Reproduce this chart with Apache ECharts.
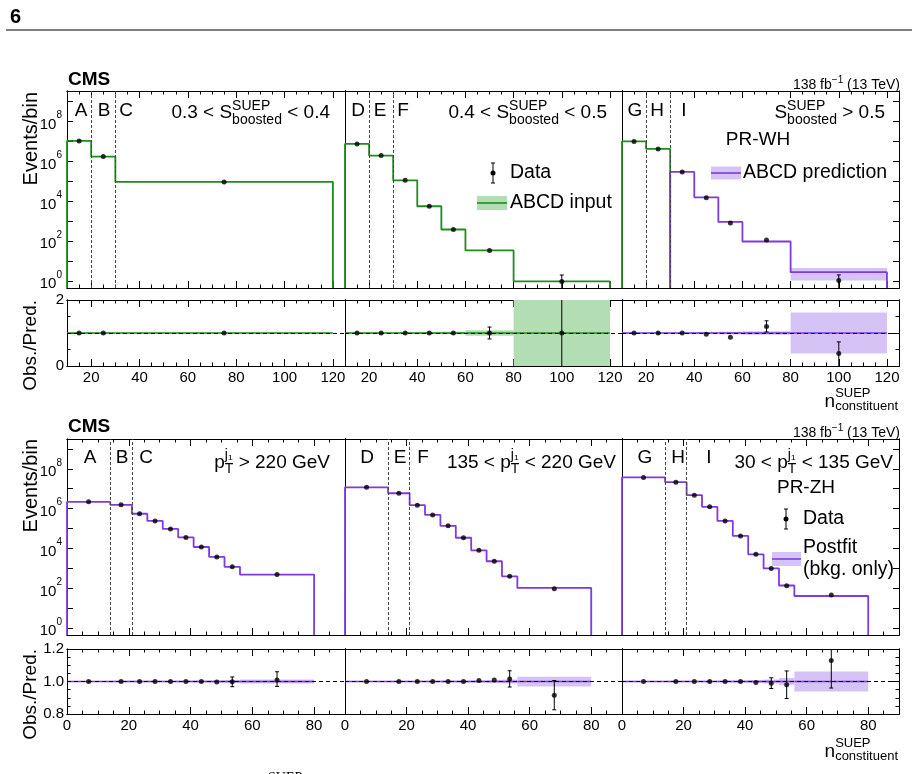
<!DOCTYPE html>
<html lang="en">
<head>
<meta charset="UTF-8">
<title>SUEP ABCD closure</title>
<style>
  html, body { margin: 0; padding: 0; background: #fff; }
  #chart { width: 920px; height: 774px; }
</style>
</head>
<body>
<div id="chart"></div>
<script src="https://cdn.jsdelivr.net/npm/echarts@6/dist/echarts.min.js"></script>
<script>
const FONT = '"Liberation Sans", Arial, Helvetica, sans-serif';
const GREEN = '#1e8c1e', GREEN_BAND = '#b3ddb3';
const PURPLE = '#7d3be0', PURPLE_BAND = '#d6c3f5';

// ---- data: top figure, slices in S_boosted (PR-WH)
const wsEdges = [
  [10, 20, 30, 120],
  [10, 20, 30, 40, 50, 60, 80, 120],
  [10, 20, 30, 40, 50, 60, 80, 120]
];
const wsPred = [
  [1.0e7, 1.65e6, 8.9e4],
  [7.1e6, 1.85e6, 1.07e5, 5.4e3, 370, 33, 0.93],
  [9.5e6, 4.0e6, 2.8e5, 1.5e4, 890, 93, 2.7]
];
const wsRatio = [
  [1, 1, 1],
  [1, 1, 1, 1, 1, 1, 1],
  [1, 1, 1, 0.96, 0.87, 1.2, 0.38]
];
const wsErrLo = [
  [0.003, 0.005, 0.02],
  [0.001, 0.002, 0.005, 0.02, 0.05, 0.18, 1.0],
  [0.001, 0.002, 0.006, 0.02, 0.03, 0.17, 0.38]
];
const wsErrHi = [
  [0.003, 0.005, 0.02],
  [0.001, 0.002, 0.005, 0.02, 0.05, 0.18, 1.1],
  [0.001, 0.002, 0.006, 0.02, 0.03, 0.17, 0.35]
];
const wsBand = [
  [0.003, 0.004, 0.01],
  [0.002, 0.003, 0.005, 0.02, 0.04, 0.08, 1.2],
  [0.002, 0.003, 0.005, 0.02, 0.04, 0.05, 0.62]
];
const wsInputBins = [3, 7, 2];   // leading bins that are ABCD input (green)
const wsRegionCuts = [20, 30];
const wsXLabels = [20, 40, 60, 80, 100, 120];
const wsRatioLabels = [0, 2];

// ---- data: bottom figure, slices in leading jet pT (PR-ZH)
const ptEdges = [0, 14, 21, 26, 31, 36, 41, 46, 51, 56, 80];
const ptPred = [
  [2.19e6, 1.55e6, 5.5e5, 2.4e5, 9.5e4, 3.55e4, 1.17e4, 3.7e3, 1.17e3, 480],
  [1.17e7, 5.9e6, 1.48e6, 4.8e5, 1.35e5, 3.4e4, 7.9e3, 2.24e3, 390, 102],
  [3.7e7, 2.14e7, 4.7e6, 1.23e6, 2.4e5, 4.2e4, 5.0e3, 980, 135, 40]
];
const ptRatio = [
  [1, 1, 1, 1, 1, 1, 1, 0.997, 0.998, 1.01],
  [1, 1, 1, 1, 1, 1, 1.006, 1.01, 1.016, 0.916],
  [1, 1, 1, 1, 1, 1, 0.994, 0.99, 0.98, 1.13]
];
const ptErrLo = [
  [0.002, 0.002, 0.003, 0.004, 0.005, 0.007, 0.01, 0.015, 0.03, 0.04],
  [0.001, 0.002, 0.002, 0.003, 0.004, 0.006, 0.01, 0.015, 0.05, 0.09],
  [0.001, 0.001, 0.002, 0.003, 0.005, 0.008, 0.015, 0.033, 0.085, 0.17]
];
const ptErrHi = [
  [0.002, 0.002, 0.003, 0.004, 0.005, 0.007, 0.01, 0.015, 0.03, 0.05],
  [0.001, 0.002, 0.002, 0.003, 0.004, 0.006, 0.01, 0.015, 0.05, 0.09],
  [0.001, 0.001, 0.002, 0.003, 0.005, 0.008, 0.015, 0.033, 0.085, 0.17]
];
const ptBand = [
  [0.003, 0.003, 0.003, 0.003, 0.003, 0.004, 0.005, 0.006, 0.008, 0.012],
  [0.002, 0.002, 0.003, 0.003, 0.004, 0.005, 0.006, 0.008, 0.012, 0.03],
  [0.002, 0.002, 0.003, 0.003, 0.004, 0.005, 0.008, 0.012, 0.022, 0.062]
];
const ptRegionCuts = [14, 21];
const ptXLabels = [0, 20, 40, 60, 80];
const ptRatioLabels = [0.8, 1.0, 1.2];

const decadeTicks = [0, 1, 2, 3, 4, 5, 6, 7, 8, 9];
const decadeLabels = [0, 2, 4, 6, 8];

// ---- layout
const colLeft = [67, 345, 622];
const colWidth = [278, 277, 277];
const mainYRange = [-0.36, 9.5];

const lg = v => (v > 0 ? Math.log10(v) : -99);
function steps(a, b, step) {
  const out = [];
  for (let v = a; v <= b + 1e-9; v += step) out.push(+v.toFixed(3));
  return out;
}

const figures = [
  {
    edges: wsEdges, pred: wsPred, ratio: wsRatio, errLo: wsErrLo, errHi: wsErrHi, band: wsBand,
    inputBins: wsInputBins, cuts: wsRegionCuts,
    x: { range: [10, 125], minor: steps(10, 125, 5), major: wsXLabels, labels: wsXLabels },
    mainTop: 91, mainH: 197, ratioTop: 300, ratioH: 66,
    r: { range: [0, 2], minor: [0, 0.5, 1, 1.5, 2], major: [0, 1, 2], labels: wsRatioLabels, fmt: v => String(v) },
    ratioColor: [GREEN, GREEN, PURPLE]
  },
  {
    edges: [ptEdges, ptEdges, ptEdges], pred: ptPred, ratio: ptRatio, errLo: ptErrLo, errHi: ptErrHi, band: ptBand,
    inputBins: [0, 0, 0], cuts: ptRegionCuts,
    x: { range: [0, 90], minor: steps(0, 90, 5), major: ptXLabels, labels: ptXLabels },
    mainTop: 439, mainH: 196, ratioTop: 649, ratioH: 65,
    r: { range: [0.8, 1.2], minor: steps(0.8, 1.2, 0.05), major: ptRatioLabels, labels: ptRatioLabels, fmt: v => v.toFixed(1) },
    ratioColor: [PURPLE, PURPLE, PURPLE]
  }
];

const grids = [], xAxis = [], yAxis = [], series = [];

function tickAxis(g, pos, range, ticks, len, showTicks, lab) {
  return {
    type: 'value', gridIndex: g, position: pos, min: range[0], max: range[1],
    axisLine: { show: true, onZero: false, lineStyle: { color: '#000', width: 1 } },
    axisTick: { show: showTicks, inside: true, length: len, customValues: ticks, lineStyle: { color: '#000', width: 1 } },
    axisLabel: lab || { show: false },
    splitLine: { show: false },
    axisPointer: { show: false }
  };
}

function labelOf(values, fmt, extra) {
  return Object.assign({
    show: true, customValues: values, formatter: fmt, color: '#000',
    fontFamily: FONT, fontSize: 15, margin: 4
  }, extra || {});
}

function addPanel(left, top, width, height, xc, yc, col) {
  const g = grids.length;
  grids.push({ left, top, width, height });
  const xi = xAxis.length, yi = yAxis.length;
  xAxis.push(
    tickAxis(g, 'bottom', xc.range, xc.minor, 3.5, true, xc.showLabels ? labelOf(xc.labels, v => String(v)) : null),
    tickAxis(g, 'bottom', xc.range, xc.major, 7, true, null),
    tickAxis(g, 'top', xc.range, xc.minor, 3.5, true, null),
    tickAxis(g, 'top', xc.range, xc.major, 7, true, null)
  );
  yAxis.push(
    tickAxis(g, 'left', yc.range, yc.minor, yc.minorLen, col === 0, col === 0 ? yc.label : null),
    tickAxis(g, 'left', yc.range, yc.major, yc.majorLen, col === 0, null),
    tickAxis(g, 'right', yc.range, yc.minor, yc.minorLen, col === 2, null),
    tickAxis(g, 'right', yc.range, yc.major, yc.majorLen, col === 2, null)
  );
  return { xi, yi };
}

function histPoints(edges, vals, from, to) {
  const y0 = mainYRange[0];
  const pts = [[edges[from], y0]];
  for (let i = from; i < to; i++) pts.push([edges[i], lg(vals[i])], [edges[i + 1], lg(vals[i])]);
  pts.push([edges[to], y0]);
  return pts;
}

function histSeries(ax, pts, color, cuts) {
  const s = {
    type: 'line', xAxisIndex: ax.xi, yAxisIndex: ax.yi, data: pts, symbol: 'none', showSymbol: false,
    lineStyle: { color, width: 1.8 }, z: 3, silent: true
  };
  if (cuts) {
    s.markLine = {
      silent: true, symbol: ['none', 'none'], label: { show: false }, animation: false,
      lineStyle: { color: '#444', width: 1, type: [3, 2] },
      emphasis: { disabled: true },
      data: cuts.map(v => ({ xAxis: v }))
    };
  }
  return s;
}

function bandRenderer(fill, stroke) {
  return function (params, api) {
    const cs = params.coordSys;
    const clampY = y => Math.max(cs.y, Math.min(cs.y + cs.height, y));
    const a = api.coord([api.value(0), api.value(3)]);
    const b = api.coord([api.value(1), api.value(2)]);
    const top = clampY(a[1]), bot = clampY(b[1]);
    const children = [{
      type: 'rect', shape: { x: a[0], y: top, width: b[0] - a[0], height: Math.max(bot - top, 0) },
      style: { fill }
    }];
    if (stroke) {
      const yc = api.coord([api.value(0), api.value(4)])[1];
      children.push({ type: 'line', shape: { x1: a[0], y1: yc, x2: b[0], y2: yc }, style: { stroke, lineWidth: 1.6 } });
    }
    return { type: 'group', children };
  };
}

function errRenderer(params, api) {
  const cs = params.coordSys;
  const clampY = y => Math.max(cs.y, Math.min(cs.y + cs.height, y));
  const pLo = api.coord([api.value(0), api.value(1)]);
  const pHi = api.coord([api.value(0), api.value(2)]);
  const x = pLo[0];
  const top = clampY(pHi[1]), bot = clampY(pLo[1]);
  if (bot - top < 6) return null;
  const st = { stroke: '#000', lineWidth: 1 };
  const ch = [{ type: 'line', shape: { x1: x, y1: top, x2: x, y2: bot }, style: st }];
  if (pHi[1] > cs.y) ch.push({ type: 'line', shape: { x1: x - 2, y1: top, x2: x + 2, y2: top }, style: st });
  if (pLo[1] < cs.y + cs.height) ch.push({ type: 'line', shape: { x1: x - 2, y1: bot, x2: x + 2, y2: bot }, style: st });
  return { type: 'group', children: ch };
}

function markers(ax, data, withUnity) {
  const s = {
    type: 'scatter', xAxisIndex: ax.xi, yAxisIndex: ax.yi, data, symbol: 'circle', symbolSize: 5,
    itemStyle: { color: '#000' }, z: 5, silent: true
  };
  if (withUnity) {
    s.markLine = {
      silent: true, symbol: ['none', 'none'], label: { show: false }, animation: false,
      lineStyle: { color: '#000', width: 1, type: [4, 3] },
      emphasis: { disabled: true },
      data: [{ yAxis: 1 }]
    };
  }
  return s;
}

const mainY = {
  range: mainYRange, minor: decadeTicks, major: decadeTicks, minorLen: 6, majorLen: 6,
  label: labelOf(decadeLabels, v => '{b|10}{e|' + v + '}', {
    margin: 5,
    rich: {
      b: { fontFamily: FONT, fontSize: 15, color: '#000', lineHeight: 22, verticalAlign: 'bottom' },
      e: { fontFamily: FONT, fontSize: 10, color: '#000', lineHeight: 12, verticalAlign: 'top' }
    }
  })
};

figures.forEach(f => {
  const ratioY = {
    range: f.r.range, minor: f.r.minor, major: f.r.major, minorLen: 3.5, majorLen: 7,
    label: labelOf(f.r.labels, f.r.fmt, { margin: 3 })
  };
  for (let c = 0; c < 3; c++) {
    const edges = f.edges[c], pred = f.pred[c], ratio = f.ratio[c];
    const eLo = f.errLo[c], eHi = f.errHi[c], band = f.band[c], nIn = f.inputBins[c];
    const centers = pred.map((_, i) => (edges[i] + edges[i + 1]) / 2);

    // main panel
    const m = addPanel(colLeft[c], f.mainTop, colWidth[c], f.mainH,
      Object.assign({ showLabels: false }, f.x), mainY, c);
    const predBand = [];
    for (let i = nIn; i < pred.length; i++) {
      predBand.push([edges[i], edges[i + 1], lg(pred[i] * (1 - band[i])), lg(pred[i] * (1 + band[i])), lg(pred[i])]);
    }
    series.push({
      type: 'custom', xAxisIndex: m.xi, yAxisIndex: m.yi, data: predBand, z: 2, silent: true,
      renderItem: bandRenderer(PURPLE_BAND, null)
    });
    if (nIn > 0) series.push(histSeries(m, histPoints(edges, pred, 0, nIn), GREEN, f.cuts));
    if (nIn < pred.length) series.push(histSeries(m, histPoints(edges, pred, nIn, pred.length), PURPLE, nIn > 0 ? null : f.cuts));
    series.push({
      type: 'custom', xAxisIndex: m.xi, yAxisIndex: m.yi, z: 4, silent: true, renderItem: errRenderer,
      data: pred.map((p, i) => [centers[i], lg(p * (ratio[i] - eLo[i])), lg(p * (ratio[i] + eHi[i]))])
    });
    series.push(markers(m, pred.map((p, i) => [centers[i], lg(p * ratio[i])]), false));

    // ratio panel
    const r = addPanel(colLeft[c], f.ratioTop, colWidth[c], f.ratioH,
      Object.assign({ showLabels: true }, f.x), ratioY, c);
    const rc = f.ratioColor[c];
    series.push({
      type: 'custom', xAxisIndex: r.xi, yAxisIndex: r.yi, z: 2, silent: true,
      renderItem: bandRenderer(rc === GREEN ? GREEN_BAND : PURPLE_BAND, rc),
      data: band.map((u, i) => [edges[i], edges[i + 1], 1 - u, 1 + u, 1])
    });
    series.push({
      type: 'custom', xAxisIndex: r.xi, yAxisIndex: r.yi, z: 4, silent: true, renderItem: errRenderer,
      data: ratio.map((v, i) => [centers[i], v - eLo[i], v + eHi[i]])
    });
    series.push(markers(r, ratio.map((v, i) => [centers[i], v]), true));
  }
});

// ---- text and legend graphics
const measureCtx = document.createElement('canvas').getContext('2d');
function tw(s, size, bold) {
  measureCtx.font = (bold ? 'bold ' : '') + size + 'px ' + FONT;
  return measureCtx.measureText(s).width;
}
function T(x, y, text, size, align, extra) {
  return {
    type: 'text', x, y, silent: true,
    style: Object.assign({
      text, fill: '#000', fontFamily: FONT, fontSize: size,
      align: align || 'left', verticalAlign: 'middle'
    }, extra || {})
  };
}
// lays out a run of text pieces, stacked pieces are super/subscripts sharing one slot
function run(x0, y, parts, align) {
  const widths = parts.map(p => p.stack
    ? Math.max.apply(null, p.stack.map(s => tw(s.t, s.size)))
    : tw(p.t, p.size, p.bold));
  const total = widths.reduce((a, b) => a + b, 0);
  let x = align === 'right' ? x0 - total : (align === 'center' ? x0 - total / 2 : x0);
  const out = [];
  parts.forEach((p, i) => {
    (p.stack || [p]).forEach(s => out.push(T(x, y + (s.dy || 0), s.t, s.size, 'left', s.bold ? { fontWeight: 'bold' } : null)));
    x += widths[i];
  });
  return out;
}
const sBoost = { stack: [{ t: 'SUEP', size: 14, dy: -6.5 }, { t: 'boosted', size: 14, dy: 7 }] };
const pTj1 = { stack: [{ t: 'j\u2081', size: 14, dy: -8 }, { t: 'T', size: 14, dy: 6 }] };
const nConst = { stack: [{ t: 'SUEP', size: 13, dy: -9 }, { t: 'constituent', size: 13, dy: 4 }] };
const lumi = [{ t: '138 fb', size: 14 }, { t: '\u22121', size: 10, dy: -5 }, { t: ' (13 TeV)', size: 14 }];

const graphic = [
  T(10, 17, '6', 20, 'left', { fontWeight: 'bold' }),
  { type: 'line', silent: true, shape: { x1: 6, y1: 30, x2: 912, y2: 30 }, style: { stroke: '#555', lineWidth: 1.5 } }
];
function vTitle(x, y, text, size) {
  const t = T(x, y, text, size, 'right');
  t.rotation = Math.PI / 2;
  return t;
}
[[80, 85, 402, 92, 300], [427, 433, 752, 439, 649]].forEach(([cmsY, lumiY, nY, mainTop, ratioTop]) => {
  graphic.push(T(68, cmsY, 'CMS', 19, 'left', { fontWeight: 'bold' }));
  graphic.push(...run(900, lumiY, lumi, 'right'));
  graphic.push(...run(898, nY, [{ t: 'n', size: 19 }, nConst], 'right'));
  graphic.push(vTitle(31, mainTop, 'Events/bin', 20));
  graphic.push(vTitle(31, ratioTop, 'Obs./Pred.', 19));
});

// region letters
[['A', 81], ['B', 104], ['C', 126], ['D', 358], ['E', 380], ['F', 403], ['G', 635], ['H', 657], ['I', 684]]
  .forEach(([t, x]) => graphic.push(T(x, 111, t, 19, 'center')));
[['A', 90], ['B', 122], ['C', 146], ['D', 367], ['E', 400], ['F', 423], ['G', 645], ['H', 678], ['I', 709]]
  .forEach(([t, x]) => graphic.push(T(x, 458, t, 19, 'center')));

// panel selections
graphic.push(...run(330, 113, [{ t: '0.3 < S', size: 19 }, sBoost, { t: ' < 0.4', size: 19 }], 'right'));
graphic.push(...run(607, 113, [{ t: '0.4 < S', size: 19 }, sBoost, { t: ' < 0.5', size: 19 }], 'right'));
graphic.push(...run(885, 113, [{ t: 'S', size: 19 }, sBoost, { t: ' > 0.5', size: 19 }], 'right'));
graphic.push(T(758, 140, 'PR-WH', 19, 'center'));
graphic.push(...run(330, 463, [{ t: 'p', size: 19 }, pTj1, { t: ' > 220 GeV', size: 19 }], 'right'));
graphic.push(...run(616, 463, [{ t: '135 < p', size: 19 }, pTj1, { t: ' < 220 GeV', size: 19 }], 'right'));
graphic.push(...run(893, 463, [{ t: '30 < p', size: 19 }, pTj1, { t: ' < 135 GeV', size: 19 }], 'right'));
graphic.push(T(806, 488, 'PR-ZH', 19, 'center'));

// legends
function dataKey(x, y) {
  const st = { stroke: '#000', lineWidth: 1 };
  return [
    { type: 'line', silent: true, shape: { x1: x, y1: y - 10, x2: x, y2: y + 10 }, style: st },
    { type: 'line', silent: true, shape: { x1: x - 2, y1: y - 10, x2: x + 2, y2: y - 10 }, style: st },
    { type: 'line', silent: true, shape: { x1: x - 2, y1: y + 10, x2: x + 2, y2: y + 10 }, style: st },
    { type: 'circle', silent: true, shape: { cx: x, cy: y, r: 2.5 }, style: { fill: '#000' } }
  ];
}
function bandKey(x, y, w, h, fill, stroke) {
  return [
    { type: 'rect', silent: true, shape: { x, y: y - h / 2, width: w, height: h }, style: { fill } },
    { type: 'line', silent: true, shape: { x1: x, y1: y, x2: x + w, y2: y }, style: { stroke, lineWidth: 1.6 } }
  ];
}
graphic.push(...dataKey(493, 173), T(510, 173, 'Data', 19.5));
graphic.push(...bandKey(477, 203, 30, 14, GREEN_BAND, GREEN), T(510, 203, 'ABCD input', 19.5));
graphic.push(...bandKey(711, 173, 30, 13, PURPLE_BAND, PURPLE), T(743, 173, 'ABCD prediction', 19.5));
graphic.push(...dataKey(786, 519), T(803, 519, 'Data', 19.5));
graphic.push(...bandKey(772, 559, 29, 14, PURPLE_BAND, PURPLE), T(803, 548, 'Postfit', 19.5), T(803, 570, '(bkg. only)', 19.5));

// caption fragment cut at the page edge
graphic.push(T(268, 771, 'SUEP', 14, 'left', { verticalAlign: 'top', fontFamily: '"Liberation Serif", serif' }));

const chart = echarts.init(document.getElementById('chart'));
chart.setOption({
  animation: false,
  backgroundColor: '#fff',
  textStyle: { fontFamily: FONT },
  grid: grids,
  xAxis,
  yAxis,
  series,
  graphic
});
</script>
</body>
</html>
